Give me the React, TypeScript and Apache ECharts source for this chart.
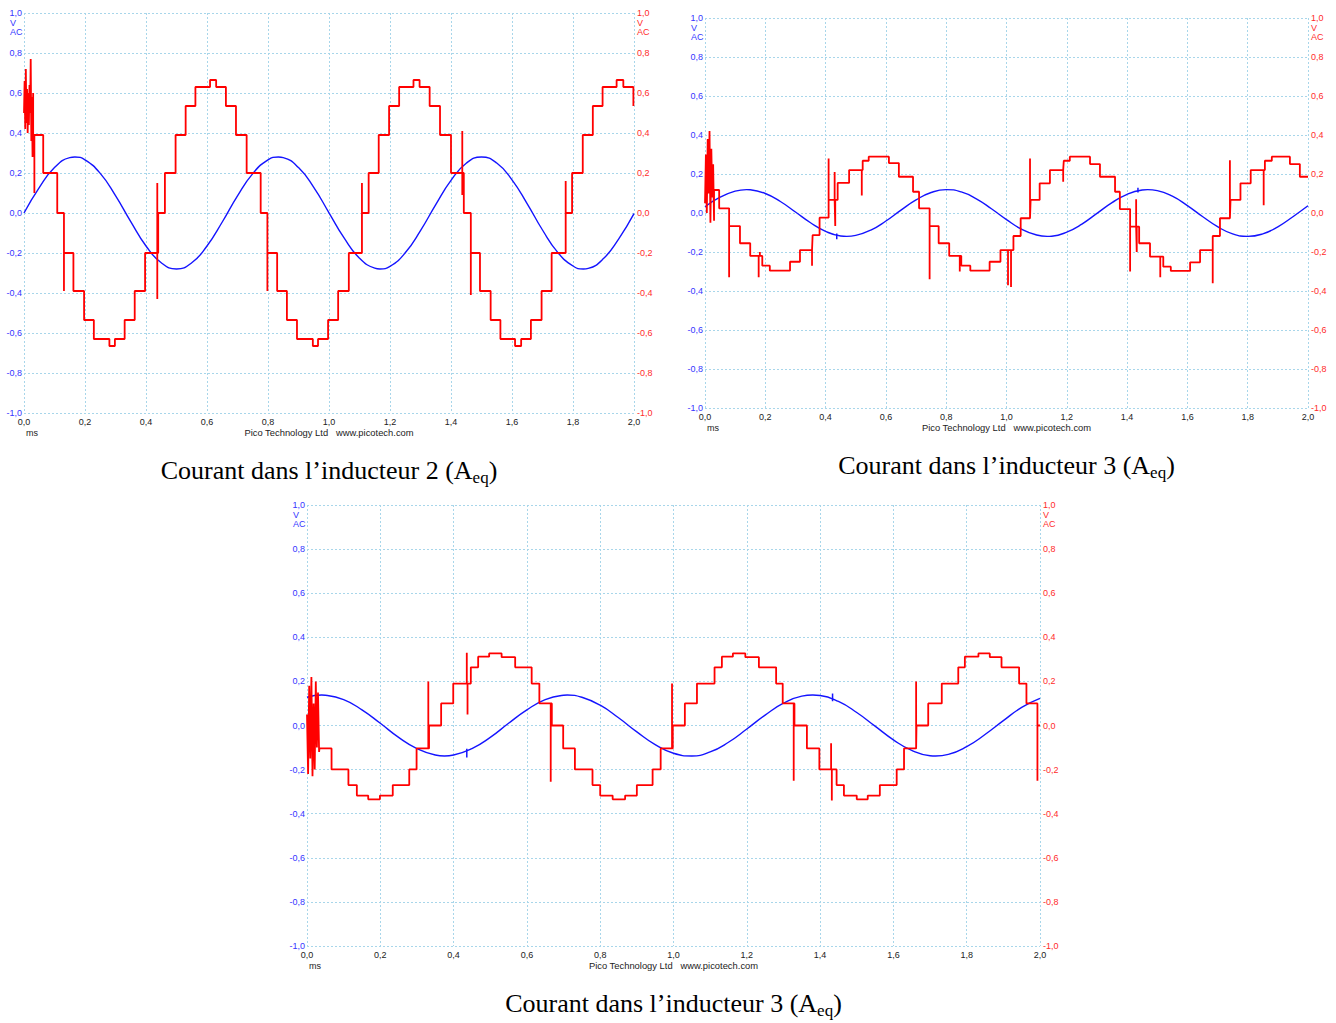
import React, { useEffect, useRef } from "react";
import * as echarts from "echarts";

// ---- sine traces (blue): time (ms) and value ----
const tb1 = [0,0.05,0.1,0.15,0.167,0.2,0.25,0.3,0.35,0.4,0.45,0.5,0.55,0.6,0.65,0.7,0.75,0.8,0.834,0.85,0.9,0.95,1,1.05,1.1,1.15,1.167,1.2,1.25,1.3,1.35,1.4,1.45,1.5,1.55,1.6,1.65,1.7,1.75,1.8,1.834,1.85,1.9,1.95,2];
const blue1 = [0,0.127,0.227,0.277,0.28,0.266,0.198,0.087,-0.043,-0.165,-0.249,-0.28,-0.249,-0.165,-0.045,0.086,0.197,0.266,0.28,0.277,0.227,0.128,0.001,-0.126,-0.226,-0.276,-0.28,-0.267,-0.199,-0.088,0.042,0.163,0.249,0.28,0.25,0.166,0.046,-0.085,-0.197,-0.265,-0.28,-0.277,-0.228,-0.129,-0.003];

const tb2 = [0,0.05,0.1,0.138,0.15,0.2,0.25,0.3,0.35,0.4,0.45,0.47,0.5,0.55,0.6,0.65,0.7,0.75,0.8,0.85,0.9,0.95,1,1.05,1.1,1.135,1.15,1.2,1.25,1.3,1.35,1.4,1.45,1.468,1.5,1.55,1.6,1.65,1.7,1.75,1.8,1.85,1.9,1.95,2];
const blue2 = [0.032,0.081,0.112,0.12,0.119,0.1,0.059,0.005,-0.05,-0.094,-0.118,-0.12,-0.115,-0.088,-0.041,0.015,0.067,0.105,0.12,0.108,0.073,0.022,-0.034,-0.083,-0.113,-0.12,-0.119,-0.098,-0.057,-0.002,0.053,0.096,0.118,0.12,0.115,0.086,0.038,-0.018,-0.07,-0.107,-0.12,-0.107,-0.071,-0.019,0.037];

const tb3 = [0,0.04,0.05,0.1,0.15,0.2,0.25,0.3,0.35,0.375,0.4,0.45,0.5,0.55,0.6,0.65,0.7,0.71,0.75,0.8,0.85,0.9,0.95,1,1.05,1.1,1.15,1.2,1.25,1.3,1.35,1.38,1.4,1.45,1.5,1.55,1.6,1.65,1.7,1.715,1.75,1.8,1.85,1.9,1.95,2];
const blue3 = [0.128,0.138,0.137,0.117,0.071,0.01,-0.054,-0.105,-0.134,-0.138,-0.134,-0.105,-0.054,0.01,0.071,0.117,0.137,0.138,0.128,0.092,0.035,-0.029,-0.087,-0.126,-0.138,-0.12,-0.076,-0.016,0.047,0.101,0.133,0.138,0.136,0.109,0.059,-0.003,-0.065,-0.113,-0.137,-0.138,-0.131,-0.096,-0.041,0.022,0.082,0.123];

// small marker blips on the blue traces: [t, from, to]
const blips2 = [[0.437, -0.135, -0.105], [1.436, 0.105, 0.13]];
const blips3 = [[0.436, -0.145, -0.105], [1.434, 0.11, 0.145]];

// ---- red staircase traces: start-up noise, step edges (ms), levels, spikes ----
const noise1 = [[0,0.5],[0.002,0.66],[0.004,0.42],[0.006,0.72],[0.008,0.45],[0.01,0.62],[0.012,0.4],[0.014,0.6],[0.016,0.44],[0.018,0.64],[0.02,0.5],[0.022,0.77],[0.024,0.36],[0.026,0.58],[0.028,0.28],[0.03,0.6]];
const edges1 = [0.03,0.063,0.109,0.131,0.162,0.197,0.229,0.28,0.298,0.33,0.363,0.397,0.44,0.462,0.497,0.53,0.562,0.61,0.63,0.662,0.695,0.73,0.776,0.798,0.83,0.862,0.895,0.947,0.964,0.997,1.03,1.065,1.108,1.13,1.163,1.197,1.23,1.277,1.297,1.33,1.364,1.4,1.442,1.465,1.495,1.53,1.562,1.61,1.63,1.662,1.697,1.73,1.776,1.797,1.832,1.865,1.897,1.943,1.965,1.998];
const levels1 = [0.39,0.2,0,-0.2,-0.39,-0.535,-0.63,-0.665,-0.63,-0.535,-0.39,-0.2,0,0.2,0.39,0.535,0.63,0.665,0.63,0.535,0.39,0.2,0,-0.2,-0.39,-0.535,-0.63,-0.665,-0.63,-0.535,-0.39,-0.2,0,0.2,0.39,0.535,0.63,0.665,0.63,0.535,0.39,0.2,0,-0.2,-0.39,-0.535,-0.63,-0.665,-0.63,-0.535,-0.39,-0.2,0,0.2,0.39,0.535,0.63,0.665,0.63,0.535];
const spikes1 = [[0.034,0.1],[0.131,-0.39],[0.437,-0.43],[0.437,0.15],[0.798,-0.39],[1.108,0.15],[1.437,0.41],[1.437,0.09],[1.465,-0.41],[1.776,0.16]];

const noise2 = [[0,0.05],[0.003,0.3],[0.006,0.0],[0.009,0.38],[0.012,0.1],[0.015,0.42],[0.018,-0.05],[0.021,0.33],[0.024,0.08],[0.027,0.25],[0.03,-0.04]];
const edges2 = [0.03,0.047,0.08,0.116,0.15,0.19,0.215,0.282,0.315,0.357,0.38,0.41,0.44,0.478,0.523,0.543,0.61,0.643,0.69,0.71,0.745,0.775,0.81,0.85,0.88,0.944,0.98,1.023,1.047,1.08,1.11,1.144,1.19,1.21,1.277,1.31,1.36,1.376,1.41,1.44,1.476,1.52,1.545,1.609,1.642,1.684,1.708,1.743,1.776,1.81,1.857,1.88,1.94,1.973];
const levels2 = [0.118,0.024,-0.067,-0.155,-0.22,-0.27,-0.296,-0.25,-0.19,-0.113,-0.024,0.067,0.154,0.22,0.268,0.289,0.256,0.186,0.109,0.024,-0.067,-0.155,-0.22,-0.27,-0.296,-0.25,-0.19,-0.118,-0.027,0.067,0.152,0.22,0.268,0.289,0.251,0.186,0.109,0.02,-0.07,-0.155,-0.224,-0.275,-0.297,-0.253,-0.19,-0.118,-0.027,0.067,0.152,0.22,0.268,0.289,0.251,0.186];
const spikes2 = [[0.08,-0.33],[0.178,-0.33],[0.182,-0.2],[0.355,-0.27],[0.41,0.28],[0.43,0.21],[0.432,-0.067],[0.52,0.09],[0.745,-0.34],[0.845,-0.3],[1.005,-0.37],[1.015,-0.38],[1.078,0.28],[1.188,0.16],[1.41,-0.3],[1.43,0.07],[1.432,-0.2],[1.51,-0.33],[1.684,-0.36],[1.741,0.27],[1.853,0.04]];

const noise3 = [[0,0.05],[0.003,-0.22],[0.006,0.18],[0.009,-0.15],[0.012,0.22],[0.015,-0.23],[0.018,0.1],[0.021,-0.2],[0.024,0.2],[0.027,-0.1],[0.03,0.15],[0.033,-0.12]];
const edges3 = [0.034,0.067,0.113,0.136,0.167,0.199,0.234,0.279,0.299,0.333,0.366,0.399,0.447,0.467,0.497,0.531,0.568,0.613,0.634,0.668,0.699,0.731,0.779,0.8,0.834,0.868,0.9,0.943,0.965,0.998,1.031,1.064,1.112,1.132,1.162,1.196,1.233,1.28,1.298,1.33,1.364,1.398,1.445,1.465,1.5,1.53,1.563,1.609,1.629,1.663,1.695,1.732,1.777,1.795,1.832,1.863,1.895,1.943,1.963,1.993];
const levels3 = [-0.104,-0.199,-0.27,-0.318,-0.335,-0.318,-0.27,-0.199,-0.104,0,0.1,0.19,0.264,0.312,0.327,0.31,0.264,0.19,0.1,0,-0.104,-0.199,-0.27,-0.318,-0.335,-0.318,-0.27,-0.199,-0.104,0,0.1,0.19,0.264,0.312,0.327,0.31,0.264,0.19,0.1,0,-0.104,-0.199,-0.27,-0.318,-0.335,-0.318,-0.27,-0.199,-0.104,0,0.1,0.19,0.264,0.312,0.327,0.31,0.264,0.19,0.1,0];
const spikes3 = [[0.331,0.2],[0.436,0.33],[0.438,0.05],[0.665,-0.255],[0.996,0.19],[1.328,-0.25],[1.43,-0.08],[1.432,-0.34],[1.662,0.2],[1.993,-0.25]];

const T_END = 2;
const captions = ["Courant dans l’inducteur 2 (A", "Courant dans l’inducteur 3 (A", "Courant dans l’inducteur 3 (A"];

// layout (pixels)
const GRIDS = [
  { left: 24, top: 13, width: 610, height: 400 },
  { left: 705, top: 18, width: 603, height: 390 },
  { left: 307, top: 505, width: 733, height: 441 },
];

function buildSteps(noise: number[][], edges: number[], levels: number[], spikes: number[][], end: number) {
  const pts: number[][] = noise.map((p) => [p[0], p[1]]);
  for (let i = 0; i < edges.length; i++) {
    const a = edges[i];
    const b = i + 1 < edges.length ? edges[i + 1] : end;
    const L = levels[i];
    pts.push([a, L]);
    spikes
      .filter((s) => s[0] >= a && s[0] < b)
      .forEach((s) => {
        pts.push([s[0], L], [s[0], s[1]], [s[0], L]);
      });
    pts.push([b, L]);
  }
  return pts;
}

const fmt = (v: number) => (Math.abs(v) < 1e-9 ? "0,0" : v.toFixed(1).replace(".", ","));

const GRIDLINE = { color: "#a8d6ea", width: 1, type: [2, 2] as any };
const BLUE_LBL = "#3535ff";
const RED_LBL = "#ff2b2b";
const SANS = "Liberation Sans";

export default function App() {
  const ref = useRef<HTMLDivElement>(null);
  useEffect(() => {
    if (!ref.current) return;
    const chart = echarts.init(ref.current, undefined, { renderer: "svg" });
    const blueT = [tb1, tb2, tb3];
    const blues = [blue1, blue2, blue3];
    const reds = [
      buildSteps(noise1, edges1, levels1, spikes1, T_END),
      buildSteps(noise2, edges2, levels2, spikes2, T_END),
      buildSteps(noise3, edges3, levels3, spikes3, T_END),
    ];
    const blips = [[], blips2, blips3] as number[][][];

    const xAxis: any[] = [];
    const yAxis: any[] = [];
    const series: any[] = [];
    const graphic: any[] = [];

    GRIDS.forEach((g, i) => {
      xAxis.push({
        type: "value",
        gridIndex: i,
        min: 0,
        max: 2,
        interval: 0.2,
        axisLine: { show: false },
        axisTick: { show: false },
        splitLine: { show: true, lineStyle: GRIDLINE },
        axisLabel: { formatter: fmt, fontSize: 9, fontFamily: SANS, color: "#222", margin: 4 },
      });
      yAxis.push({
        type: "value",
        gridIndex: i,
        position: "left",
        min: -1,
        max: 1,
        interval: 0.2,
        axisLine: { show: false },
        axisTick: { show: false },
        splitLine: { show: true, lineStyle: GRIDLINE },
        axisLabel: { formatter: fmt, fontSize: 9, fontFamily: SANS, color: BLUE_LBL, margin: 2 },
      });
      yAxis.push({
        type: "value",
        gridIndex: i,
        position: "right",
        min: -1,
        max: 1,
        interval: 0.2,
        axisLine: { show: false },
        axisTick: { show: false },
        splitLine: { show: false },
        axisLabel: { formatter: fmt, fontSize: 9, fontFamily: SANS, color: RED_LBL, margin: 3 },
      });
      series.push({
        type: "line",
        xAxisIndex: i,
        yAxisIndex: 2 * i,
        data: blueT[i].map((t, k) => [t, blues[i][k]]),
        smooth: 0.5,
        showSymbol: false,
        lineStyle: { color: "#1414ff", width: 1.4 },
        z: 2,
      });
      blips[i].forEach((b) => {
        series.push({
          type: "line",
          xAxisIndex: i,
          yAxisIndex: 2 * i,
          data: [[b[0], b[1]], [b[0], b[2]]],
          showSymbol: false,
          lineStyle: { color: "#1414ff", width: 1.5 },
          z: 2,
        });
      });
      series.push({
        type: "line",
        xAxisIndex: i,
        yAxisIndex: 2 * i + 1,
        data: reds[i],
        showSymbol: false,
        lineStyle: { color: "#ff0000", width: 1.8 },
        z: 3,
      });

      const right = g.left + g.width;
      const bottom = g.top + g.height;
      const small = { fontSize: 9, fontFamily: SANS };
      graphic.push(
        { type: "text", x: g.left - 14, y: g.top + 5, style: { ...small, text: "V", fill: BLUE_LBL } },
        { type: "text", x: g.left - 14, y: g.top + 14, style: { ...small, text: "AC", fill: BLUE_LBL } },
        { type: "text", x: right + 3, y: g.top + 5, style: { ...small, text: "V", fill: RED_LBL } },
        { type: "text", x: right + 3, y: g.top + 14, style: { ...small, text: "AC", fill: RED_LBL } },
        { type: "text", x: g.left + 2, y: bottom + 15, style: { ...small, text: "ms", fill: "#222" } },
        {
          type: "text",
          x: g.left + g.width / 2,
          y: bottom + 15,
          style: { fontSize: 9.4, fontFamily: SANS, text: "Pico Technology Ltd   www.picotech.com", fill: "#222", textAlign: "center" },
        },
        {
          type: "text",
          x: g.left + g.width / 2,
          y: bottom + 57,
          style: {
            text: "{m|" + captions[i] + "}{s|eq}{m|)}",
            textAlign: "center",
            textVerticalAlign: "middle",
            rich: {
              m: { fontSize: 26, fontFamily: "Liberation Serif", lineHeight: 32, fill: "#000" },
              s: { fontSize: 17, fontFamily: "Liberation Serif", lineHeight: 14, verticalAlign: "bottom", fill: "#000" },
            },
          },
        }
      );
    });

    chart.setOption({
      animation: false,
      backgroundColor: "#ffffff",
      grid: GRIDS.map((g) => ({ ...g, containLabel: false })),
      xAxis,
      yAxis,
      series,
      graphic,
    });
    return () => chart.dispose();
  }, []);
  return <div ref={ref} style={{ position: "absolute", left: 0, top: 0, width: 1336, height: 1023 }} />;
}
